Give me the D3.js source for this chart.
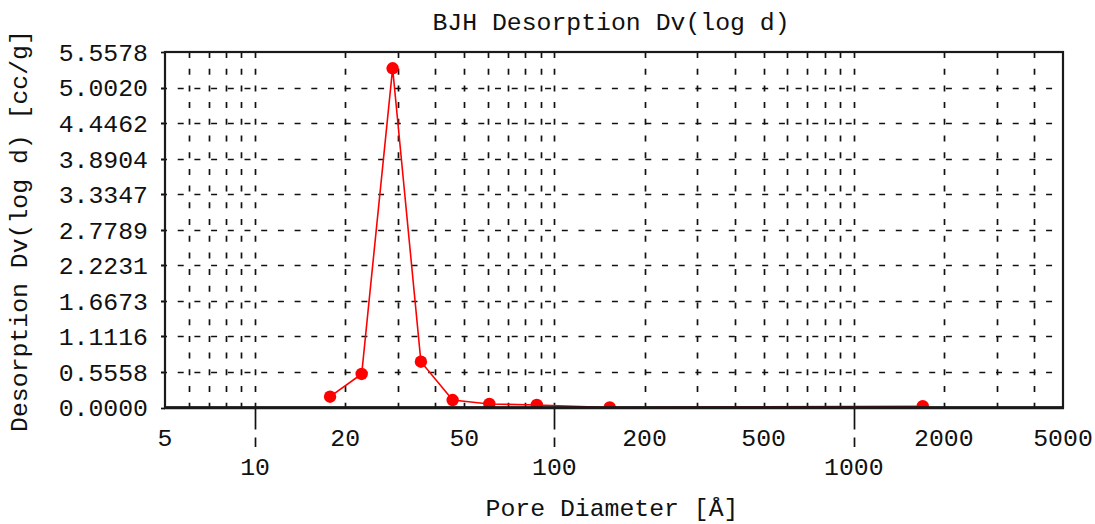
<!DOCTYPE html>
<html>
<head>
<meta charset="utf-8">
<script src="https://cdn.jsdelivr.net/npm/d3@7"></script>
<style>
  html, body { margin: 0; padding: 0; background: #fff; }
  svg { display: block; }
  text { font-family: "Liberation Mono", "DejaVu Sans Mono", monospace; fill: #111; }
</style>
</head>
<body>
<svg id="chart" width="1095" height="524"></svg>
<script>
// BJH desorption pore size distribution
const poreDiameter = [17.8, 22.7, 28.8, 35.8, 45.7, 60.6, 87.3, 153, 1700];
const dvLogD = [0.169, 0.524, 5.303, 0.716, 0.117, 0.055, 0.040, 0.000, 0.020];

const yTicks = [0, 0.5558, 1.1116, 1.6673, 2.2231, 2.7789, 3.3347, 3.8904, 4.4462, 5.0020, 5.5578];
const yTickLabels = ["0.0000", "0.5558", "1.1116", "1.6673", "2.2231", "2.7789", "3.3347", "3.8904", "4.4462", "5.0020", "5.5578"];
const xLabelsUpper = [5, 20, 50, 200, 500, 2000, 5000];
const xLabelsLower = [10, 100, 1000];
const xMajor = [10, 100, 1000];

const titleText = "BJH Desorption Dv(log d)";
const xTitle = "Pore Diameter [Å]";
const yTitle = "Desorption Dv(log d) [cc/g]";

const svg = d3.select("#chart");
const W = 1095, H = 524;
const m = { left: 165, right: 1063, top: 52, bottom: 407.5 };

const x = d3.scaleLog().domain([5, 5000]).range([m.left, m.right]);
const y = d3.scaleLinear().domain([0, 5.5578]).range([m.bottom, m.top]);

const FS = 24.8;
const dash = "6 10.7";

svg.append("rect").attr("width", W).attr("height", H).attr("fill", "#fff");

// vertical grid: every 2..9 multiple within each decade
const xGrid = [];
[1, 10, 100, 1000].forEach(dec => {
  for (let k = 1; k <= 9; k++) {
    const v = dec * k;
    if (v > 5 && v < 5000) xGrid.push(v);
  }
});

const grid = svg.append("g").attr("stroke", "#111").attr("stroke-width", 1.7)
  .attr("stroke-dasharray", dash);
grid.selectAll("line.v").data(xGrid).join("line")
  .attr("class", "v")
  .attr("x1", d => Math.round(x(d)) + 0.5).attr("x2", d => Math.round(x(d)) + 0.5)
  .attr("y1", m.top).attr("y2", m.bottom);
grid.selectAll("line.h").data(yTicks.slice(1, -1)).join("line")
  .attr("class", "h")
  .attr("x1", m.left - 4).attr("x2", m.right)
  .attr("y1", d => Math.round(y(d)) + 0.5).attr("y2", d => Math.round(y(d)) + 0.5);

// decade markers extending below the axis
svg.append("g").selectAll("line").data(xMajor).join("line")
  .attr("x1", d => Math.round(x(d)) + 0.5).attr("x2", d => Math.round(x(d)) + 0.5)
  .attr("y1", m.bottom).attr("y2", 447)
  .attr("stroke", "#111").attr("stroke-width", 1.7)
  .attr("stroke-dasharray", "22 8 10");

// y-axis outward ticks
svg.append("g").selectAll("line").data(yTicks).join("line")
  .attr("x1", m.left - 4).attr("x2", m.left)
  .attr("y1", d => Math.round(y(d)) + 0.5).attr("y2", d => Math.round(y(d)) + 0.5)
  .attr("stroke", "#111").attr("stroke-width", 1.7);

// series, clipped to the plot area
svg.append("clipPath").attr("id", "plotClip").append("rect")
  .attr("x", m.left).attr("y", m.top)
  .attr("width", m.right - m.left).attr("height", m.bottom - m.top);

const pts = poreDiameter.map((d, i) => [d, dvLogD[i]]);
const series = svg.append("g").attr("clip-path", "url(#plotClip)");
series.append("path")
  .datum(pts)
  .attr("fill", "none").attr("stroke", "#ff0000").attr("stroke-width", 1.6)
  .attr("d", d3.line().x(d => x(d[0])).y(d => y(d[1])));
series.selectAll("circle").data(pts).join("circle")
  .attr("cx", d => x(d[0])).attr("cy", d => y(d[1])).attr("r", 6.2)
  .attr("fill", "#ff0000");

// frame, with a heavier baseline
svg.append("rect")
  .attr("x", m.left).attr("y", m.top)
  .attr("width", m.right - m.left).attr("height", m.bottom - m.top)
  .attr("fill", "none").attr("stroke", "#1a1a1a").attr("stroke-width", 2.2);
svg.append("line")
  .attr("x1", m.left - 1).attr("x2", m.right + 1)
  .attr("y1", m.bottom + 0.3).attr("y2", m.bottom + 0.3)
  .attr("stroke", "#1a1a1a").attr("stroke-width", 3);

// y tick labels
svg.append("g").selectAll("text").data(yTicks).join("text")
  .attr("x", 148).attr("y", d => y(d))
  .attr("dy", "0.36em")
  .attr("text-anchor", "end").attr("font-size", FS)
  .text((d, i) => yTickLabels[i]);

// x tick labels, two staggered rows
svg.append("g").selectAll("text").data(xLabelsUpper).join("text")
  .attr("x", d => x(d)).attr("y", 446)
  .attr("text-anchor", "middle").attr("font-size", FS)
  .text(d => d);
svg.append("g").selectAll("text").data(xLabelsLower).join("text")
  .attr("x", d => x(d)).attr("y", 475)
  .attr("text-anchor", "middle").attr("font-size", FS)
  .text(d => d);

// titles
svg.append("text").attr("x", 611).attr("y", 30)
  .attr("text-anchor", "middle").attr("font-size", FS).text(titleText);
svg.append("text").attr("x", 612).attr("y", 516)
  .attr("text-anchor", "middle").attr("font-size", FS).text(xTitle);
svg.append("text")
  .attr("transform", "translate(27,231) rotate(-90)")
  .attr("text-anchor", "middle").attr("font-size", FS).text(yTitle);
</script>
</body>
</html>
